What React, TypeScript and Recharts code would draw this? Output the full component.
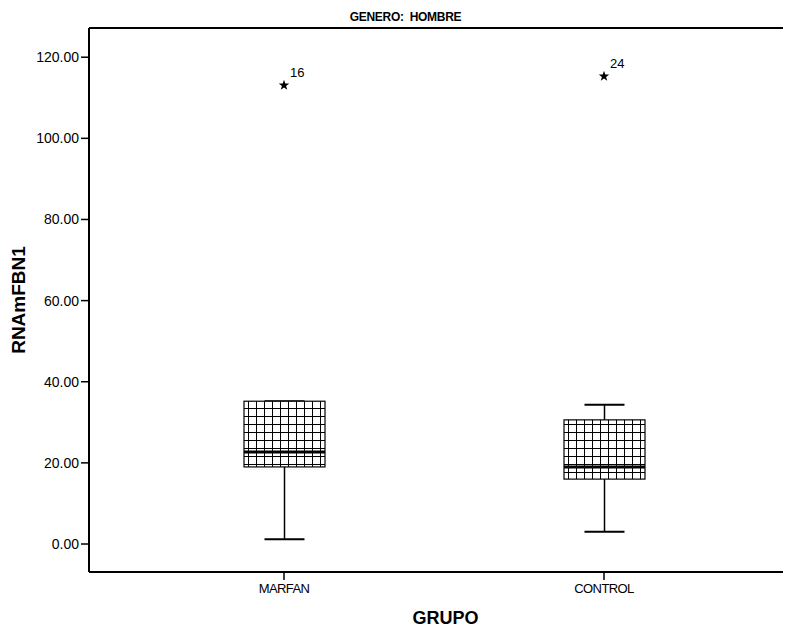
import { Bar, ComposedChart, Line, ReferenceLine, XAxis, YAxis } from 'recharts';

const categories = ['MARFAN', 'CONTROL'];
const whiskerLow = [1.2, 3.0];
const q1 = [19.0, 16.0];
const median = [22.7, 19.0];
const q3 = [35.2, 30.6];
const whiskerHigh = [35.2, 34.3];
const outlierValues = [113.1, 115.3];
const outlierCases = ['16', '24'];
const yTicks = [0, 20, 40, 60, 80, 100, 120];
const yDomain: [number, number] = [-6.9, 127.2];

const rows = categories.map((name, i) => ({
  name,
  low: whiskerLow[i],
  q1: q1[i],
  median: median[i],
  q3: q3[i],
  high: whiskerHigh[i],
  outlier: outlierValues[i],
  caseId: outlierCases[i],
}));

const FONT = '"Liberation Sans", Arial, sans-serif';

// The bar spans [low, high]; every other value is placed with the same px-per-unit the bar got.
function BoxShape(props: any) {
  const { x, y, width, height, payload } = props;
  const top = Math.min(y, y + height);
  const span = Math.abs(height);
  const bottom = top + span;
  const range = payload.high - payload.low;
  const yOf = (v: number) => (range > 0 ? bottom - ((v - payload.low) / range) * span : bottom);
  const cx = x + width / 2;
  const capHalf = 20;
  const yQ1 = yOf(payload.q1);
  const yQ3 = yOf(payload.q3);
  const yMed = yOf(payload.median);
  return (
    <g>
      <line x1={cx} x2={cx} y1={yOf(payload.high)} y2={yQ3} stroke="#000" strokeWidth={1.5} />
      <line x1={cx} x2={cx} y1={yQ1} y2={yOf(payload.low)} stroke="#000" strokeWidth={1.5} />
      <line x1={cx - capHalf} x2={cx + capHalf} y1={yOf(payload.high)} y2={yOf(payload.high)} stroke="#000" strokeWidth={2} />
      <line x1={cx - capHalf} x2={cx + capHalf} y1={yOf(payload.low)} y2={yOf(payload.low)} stroke="#000" strokeWidth={2} />
      <rect x={x} y={yQ3} width={width} height={yQ1 - yQ3} fill="url(#grid-hatch)" stroke="#000" strokeWidth={1.2} />
      <line x1={x} x2={x + width} y1={yMed} y2={yMed} stroke="#000" strokeWidth={3} />
    </g>
  );
}

function StarDot(props: any) {
  const { cx, cy, payload } = props;
  if (cx == null || cy == null) return null;
  const pts: string[] = [];
  for (let k = 0; k < 10; k++) {
    const r = k % 2 === 0 ? 5.5 : 2.2;
    const a = -Math.PI / 2 + (k * Math.PI) / 5;
    pts.push(`${cx + r * Math.cos(a)},${cy + r * Math.sin(a)}`);
  }
  return (
    <g key={payload.name}>
      <polygon points={pts.join(' ')} fill="#000" />
      <text x={cx + 6} y={cy - 8} fontSize={13} fontFamily={FONT} fill="#000">
        {payload.caseId}
      </text>
    </g>
  );
}

function YTitle(props: any) {
  const { viewBox } = props;
  const cx = 10;
  const cy = viewBox.y + viewBox.height / 2;
  return (
    <text
      x={cx}
      y={cy}
      transform={`rotate(-90 ${cx} ${cy})`}
      textAnchor="middle"
      dominantBaseline="central"
      fontSize={19}
      fontWeight="bold"
      fontFamily={FONT}
      fill="#000"
    >
      RNAmFBN1
    </text>
  );
}

function XTitle(props: any) {
  const { viewBox } = props;
  return (
    <text
      x={viewBox.x + viewBox.width / 2 - 3}
      y={viewBox.y + 46}
      textAnchor="middle"
      dominantBaseline="central"
      fontSize={18}
      fontWeight="bold"
      fontFamily={FONT}
      fill="#000"
    >
      GRUPO
    </text>
  );
}

export default function App() {
  return (
    <div style={{ position: 'relative', width: 800, height: 620 }}>
      <style>{'html, body { overflow: hidden; }'}</style>
      <div
        style={{
          position: 'absolute',
          left: 0,
          width: 783,
          top: 2,
          textAlign: 'center',
          fontFamily: FONT,
          fontWeight: 'bold',
          fontSize: 12,
          letterSpacing: -0.3,
          paddingLeft: 12,
          boxSizing: 'border-box',
        }}
      >
        GENERO:&nbsp; HOMBRE
      </div>
      <ComposedChart
        width={800}
        height={620}
        data={rows}
        margin={{ top: 20, right: 0, bottom: 0, left: 0 }}
      >
        <defs>
          <pattern id="grid-hatch" width={8} height={8} patternUnits="userSpaceOnUse">
            <rect width={8} height={8} fill="#fff" />
            <path d="M0 0.5 H8 M0.5 0 V8" stroke="#000" strokeWidth={1} />
          </pattern>
        </defs>
        <XAxis
          dataKey="name"
          height={56}
          padding={{ left: 35, right: 44 }}
          axisLine={{ stroke: '#000', strokeWidth: 2 }}
          tickLine={{ stroke: '#000', strokeWidth: 1.5 }}
          tickSize={8}
          tickMargin={4}
          tick={{ fill: '#000', fontSize: 13, fontFamily: FONT, letterSpacing: -0.6 }}
          label={<XTitle />}
        />
        <YAxis
          width={81}
          domain={yDomain}
          ticks={yTicks}
          allowDataOverflow
          tickFormatter={(v: number) => v.toFixed(2)}
          axisLine={{ stroke: '#000', strokeWidth: 2 }}
          tickLine={{ stroke: '#000', strokeWidth: 1.5 }}
          tickSize={8}
          tickMargin={2}
          tick={{ fill: '#000', fontSize: 14, fontFamily: FONT }}
          label={<YTitle />}
        />
        <ReferenceLine y={yDomain[1]} stroke="#000" strokeWidth={2} ifOverflow="extendDomain" />
        <Bar
          dataKey={(d: any) => [d.low, d.high]}
          barSize={81}
          shape={<BoxShape />}
          isAnimationActive={false}
        />
        <Line
          dataKey="outlier"
          stroke="none"
          dot={<StarDot />}
          activeDot={false}
          isAnimationActive={false}
        />
      </ComposedChart>
    </div>
  );
}
